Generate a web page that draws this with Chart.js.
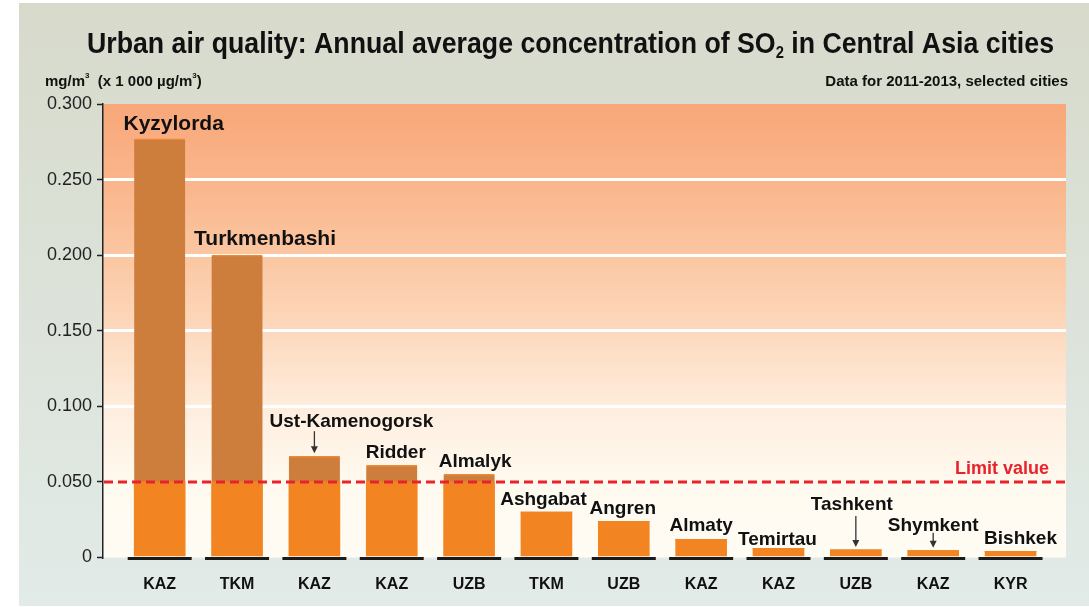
<!DOCTYPE html>
<html>
<head>
<meta charset="utf-8">
<script src="https://cdn.jsdelivr.net/npm/chart.js@4/dist/chart.umd.min.js"></script>
<style>
  html, body { margin: 0; padding: 0; background: #fff; }
  #wrap { width: 1089px; height: 607px; position: relative; }
</style>
</head>
<body>
<div id="wrap"><canvas id="so2Chart" width="1089" height="607"></canvas></div>
<script>
// ---- data ----
const CITIES = ['Kyzylorda', 'Turkmenbashi', 'Ust-Kamenogorsk', 'Ridder', 'Almalyk', 'Ashgabat',
  'Angren', 'Almaty', 'Temirtau', 'Tashkent', 'Shymkent', 'Bishkek'];
const COUNTRIES = ['KAZ', 'TKM', 'KAZ', 'KAZ', 'UZB', 'TKM', 'UZB', 'KAZ', 'KAZ', 'UZB', 'KAZ', 'KYR'];
const SO2 = [0.277, 0.200, 0.067, 0.061, 0.055, 0.030, 0.024, 0.012, 0.006, 0.005, 0.0045, 0.004];
const LIMIT = 0.05;
const Y_TICKS = [0, 0.05, 0.1, 0.15, 0.2, 0.25, 0.3];

// label placement: [dx from bar centre, gap above bar top, font size, arrow length]
const LABEL_POS = [
  [14, 9, 21, 0], [28, 10, 21, 0], [37, 29, 19, 22], [4, 7, 19, 0],
  [6, 7, 19, 0], [-3, 7, 19, 0], [-1, 7, 19, 0], [0, 8, 19, 0],
  [-1, 3, 19, 0], [-4, 40, 19, 31], [0, 20, 19, 15], [10, 7, 19, 0]
];

const FONT = "'Liberation Sans', Arial, Helvetica, sans-serif";
const BAR_LOW = '#f28522';
const BAR_HIGH = '#cd7e3c';
const LIMIT_RED = '#e8232b';

// draws a run of text pieces (for sub/superscripts), squeezed to a width if given
function drawRich(ctx, parts, x, y, width) {
  ctx.save();
  let natural = 0;
  parts.forEach(p => { ctx.font = p.f; natural += ctx.measureText(p.t).width; });
  const sx = width ? width / natural : 1;
  ctx.translate(x, y);
  ctx.scale(sx, 1);
  ctx.textBaseline = 'alphabetic';
  ctx.textAlign = 'left';
  let cx = 0;
  parts.forEach(p => {
    ctx.font = p.f;
    ctx.fillStyle = p.c || '#111';
    ctx.fillText(p.t, cx, p.dy || 0);
    cx += ctx.measureText(p.t).width;
  });
  ctx.restore();
}

const backdrop = {
  id: 'backdrop',
  beforeDraw(chart) {
    const { ctx, chartArea: a } = chart;
    ctx.save();
    ctx.fillStyle = '#fff';
    ctx.fillRect(0, 0, chart.width, chart.height);
    const g = ctx.createLinearGradient(0, 3, 0, 606);
    g.addColorStop(0, '#d7dacb');
    g.addColorStop(1, '#e2ebe8');
    ctx.fillStyle = g;
    ctx.fillRect(19, 3, chart.width - 19, 603);

    const p = ctx.createLinearGradient(0, a.top, 0, a.bottom);
    p.addColorStop(0, '#f8a779');
    p.addColorStop(0.2, '#fab88e');
    p.addColorStop(0.45, '#fcd3b4');
    p.addColorStop(0.7, '#fff0e2');
    p.addColorStop(0.85, '#fffaf0');
    p.addColorStop(1, '#fffcf4');
    ctx.fillStyle = p;
    ctx.fillRect(a.left, a.top, a.right - a.left, a.bottom - a.top);
    ctx.restore();
  },
  afterDraw(chart) {
    const ctx = chart.ctx;
    drawRich(ctx, [
      { t: 'Urban air quality: Annual average concentration of SO', f: `bold 29px ${FONT}` },
      { t: '2', f: `bold 16px ${FONT}`, dy: 5 },
      { t: ' in Central Asia cities', f: `bold 29px ${FONT}` }
    ], 87, 53, 967);
    drawRich(ctx, [
      { t: 'mg/m', f: `bold 15px ${FONT}` },
      { t: '3', f: `bold 8px ${FONT}`, dy: -8 },
      { t: '  (x 1 000 µg/m', f: `bold 15px ${FONT}` },
      { t: '3', f: `bold 8px ${FONT}`, dy: -8 },
      { t: ')', f: `bold 15px ${FONT}` }
    ], 45, 86);
    ctx.save();
    ctx.font = `bold 15px ${FONT}`;
    ctx.fillStyle = '#111';
    ctx.textAlign = 'right';
    ctx.fillText('Data for 2011-2013, selected cities', 1068, 86);
    ctx.restore();
  }
};

const marks = {
  id: 'marks',
  afterDatasetsDraw(chart) {
    const { ctx, chartArea: a, scales: { x, y } } = chart;
    ctx.save();
    // limit line
    const ly = y.getPixelForValue(LIMIT);
    ctx.strokeStyle = LIMIT_RED;
    ctx.lineWidth = 3;
    ctx.setLineDash([9, 5]);
    ctx.beginPath();
    ctx.moveTo(a.left + 1, ly);
    ctx.lineTo(a.right, ly);
    ctx.stroke();
    ctx.setLineDash([]);
    ctx.font = `bold 18px ${FONT}`;
    ctx.fillStyle = LIMIT_RED;
    ctx.textAlign = 'right';
    ctx.fillText('Limit value', 1049, ly - 8);

    // base strips under bars
    const y0 = y.getPixelForValue(0);
    ctx.strokeStyle = '#1b1b1b';
    ctx.lineWidth = 3;
    CITIES.forEach((c, i) => {
      const cx = x.getPixelForValue(i);
      ctx.beginPath();
      ctx.moveTo(cx - 32, y0 + 1);
      ctx.lineTo(cx + 32, y0 + 1);
      ctx.stroke();
    });

    // city names + arrows
    ctx.textAlign = 'center';
    ctx.textBaseline = 'alphabetic';
    CITIES.forEach((c, i) => {
      const [dx, gap, size, arrow] = LABEL_POS[i];
      const cx = x.getPixelForValue(i);
      const top = y.getPixelForValue(SO2[i]);
      ctx.font = `bold ${size}px ${FONT}`;
      ctx.fillStyle = '#111';
      ctx.fillText(c, cx + dx, top - gap);
      if (arrow) {
        const tip = top - 3;
        ctx.strokeStyle = '#333';
        ctx.lineWidth = 1.3;
        ctx.beginPath();
        ctx.moveTo(cx, tip - arrow);
        ctx.lineTo(cx, tip - 4);
        ctx.stroke();
        ctx.fillStyle = '#333';
        ctx.beginPath();
        ctx.moveTo(cx - 3.5, tip - 7);
        ctx.lineTo(cx + 3.5, tip - 7);
        ctx.lineTo(cx, tip);
        ctx.closePath();
        ctx.fill();
      }
    });
    ctx.restore();
  }
};

const idx = CITIES.map((c, i) => i);

new Chart(document.getElementById('so2Chart'), {
  type: 'bar',
  data: {
    datasets: [
      {
        label: 'up to limit',
        data: idx.map(i => ({ x: i, y: Math.min(SO2[i], LIMIT) })),
        backgroundColor: BAR_LOW,
        borderWidth: 0,
        barThickness: 51
      },
      {
        label: 'above limit',
        data: idx.map(i => ({ x: i, y: Math.max(SO2[i] - LIMIT, 0) })),
        backgroundColor: BAR_HIGH,
        borderColor: '#ee8a34',
        borderSkipped: 'start',
        borderWidth: c => (c.raw && c.raw.y > 0) ? { top: 1.5, left: 0, right: 0, bottom: 0 } : 0,
        barThickness: 51
      }
    ]
  },
  options: {
    responsive: false,
    animation: false,
    layout: { padding: { top: 104, right: 23, left: 0, bottom: 0 } },
    plugins: { legend: { display: false }, tooltip: { enabled: false }, title: { display: false } },
    scales: {
      x: {
        type: 'linear',
        stacked: true,
        offset: false,
        min: -0.733,
        max: 11.717,
        afterBuildTicks: s => { s.ticks = idx.map(i => ({ value: i })); },
        afterFit: s => { s.height = 49.5; },
        grid: { display: false },
        border: { display: false },
        ticks: {
          autoSkip: false,
          maxRotation: 0,
          padding: 9,
          color: '#111',
          font: { family: FONT, size: 16, weight: 'bold' },
          callback: v => COUNTRIES[v]
        }
      },
      y: {
        stacked: true,
        min: 0,
        max: 0.3,
        afterBuildTicks: s => { s.ticks = Y_TICKS.map(v => ({ value: v })); },
        afterFit: s => { s.width = 103; },
        border: { display: true, color: '#222', width: 1.5 },
        grid: {
          color: c => (c.tick && [0, 0.05, 0.3].includes(c.tick.value)) ? 'rgba(0,0,0,0)' : '#ffffff',
          lineWidth: 3,
          tickColor: '#222',
          tickWidth: 1.5,
          tickLength: 6
        },
        ticks: {
          padding: 5,
          color: '#222',
          font: { family: FONT, size: 18 },
          callback: v => v === 0 ? '0' : v.toFixed(3)
        }
      }
    }
  },
  plugins: [backdrop, marks]
});
</script>
</body>
</html>
